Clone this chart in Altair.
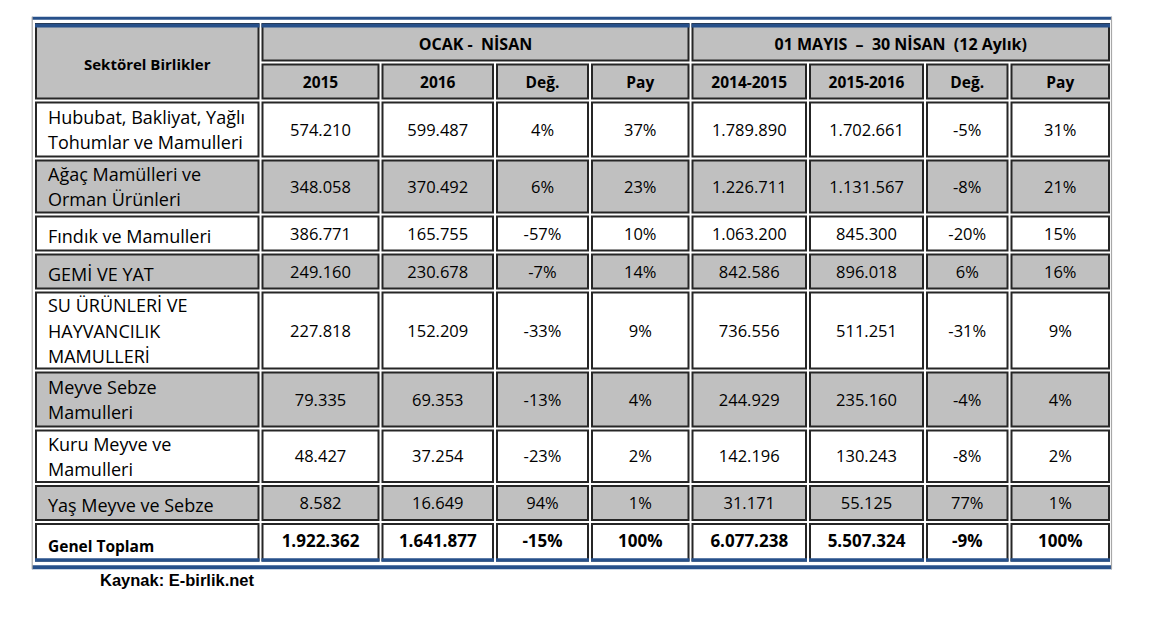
import altair as alt
import pandas as pd

# ---------------- data ----------------
corner_header = "Sektörel Birlikler"
group_headers = ["OCAK -  NİSAN", "01 MAYIS  –  30 NİSAN  (12 Aylık)"]
sub_headers = ["2015", "2016", "Değ.", "Pay", "2014-2015", "2015-2016", "Değ.", "Pay"]

sectors = [
    "Hububat, Bakliyat, Yağlı\nTohumlar ve Mamulleri",
    "Ağaç Mamülleri ve\nOrman Ürünleri",
    "Fındık ve Mamulleri",
    "GEMİ VE YAT",
    "SU ÜRÜNLERİ VE\nHAYVANCILIK\nMAMULLERİ",
    "Meyve Sebze\nMamulleri",
    "Kuru Meyve ve\nMamulleri",
    "Yaş Meyve ve Sebze",
]
total_label = "Genel Toplam"

jan_apr_2015 = [574210, 348058, 386771, 249160, 227818, 79335, 48427, 8582]
jan_apr_2016 = [599487, 370492, 165755, 230678, 152209, 69353, 37254, 16649]
jan_apr_chg = [4, 6, -57, -7, -33, -13, -23, 94]
jan_apr_share = [37, 23, 10, 14, 9, 4, 2, 1]
y12_2014_2015 = [1789890, 1226711, 1063200, 842586, 736556, 244929, 142196, 31171]
y12_2015_2016 = [1702661, 1131567, 845300, 896018, 511251, 235160, 130243, 55125]
y12_chg = [-5, -8, -20, 6, -31, -4, -8, 77]
y12_share = [31, 21, 15, 16, 9, 4, 2, 1]

total_values = [1922362, 1641877, -15, 100, 6077238, 5507324, -9, 100]
value_kinds = ["int", "int", "pct", "pct", "int", "int", "pct", "pct"]

source_note = "Kaynak: E-birlik.net"


def fmt(v, kind):
    if kind == "int":
        return f"{v:,}".replace(",", ".")
    return f"{v}%"


def keep_spaces(s):
    return s.replace("  ", " \u00a0")


# ---------------- layout ----------------
W, H = 1135, 607
OX, OY = 8, 8
col_edges = [34, 260.5, 380.5, 495, 590, 690.5, 808, 925, 1009.5, 1111]
row_edges = [22, 62.5, 100.5, 158.5, 214.5, 252.5, 290.5, 370.5, 428.5, 484, 522, 562.5]
LINE_H = 25.5
GRAY = "#C0C0C0"
WHITE = "#FFFFFF"
BORDER = "#262626"
BLUE = "#27508A"
FRAME = "#A8A8A8"
FONT = "Open Sans"

xs = alt.Scale(domain=[OX, OX + W], range=[0, W], nice=False, zero=False)
ys = alt.Scale(domain=[OY, OY + H], range=[0, H], nice=False, zero=False)


def cx(c0, c1):
    return (col_edges[c0] + col_edges[c1 + 1]) / 2


def cy(r0, r1):
    return (row_edges[r0] + row_edges[r1 + 1]) / 2


cells = []


def add_cell(c0, c1, r0, r1, fill):
    cells.append(dict(x=col_edges[c0] + 2, x2=col_edges[c1 + 1] - 2,
                      y=row_edges[r0] + 2, y2=row_edges[r1 + 1] - 2, fill=fill))


# header cells
add_cell(0, 0, 0, 1, GRAY)
add_cell(1, 4, 0, 0, GRAY)
add_cell(5, 8, 0, 0, GRAY)
for c in range(1, 9):
    add_cell(c, c, 1, 1, GRAY)
# body cells
n_body = len(sectors) + 1
for k in range(n_body):
    fill = WHITE if k % 2 == 0 else GRAY
    for c in range(9):
        add_cell(c, c, 2 + k, 2 + k, fill)
cells_df = pd.DataFrame(cells)

# blue bands (frame) and grey outer verticals
bands = []
left, right = 32, 1112
bands.append(dict(x=left, x2=right, y=16.8, y2=19.8, fill=BLUE))
bands.append(dict(x=left, x2=right, y=565.2, y2=569.2, fill=BLUE))
for (c0, c1) in [(0, 0), (1, 4), (5, 8)]:
    bands.append(dict(x=col_edges[c0] + 1, x2=col_edges[c1 + 1] - 1, y=23.4, y2=27.6, fill=BLUE))
for c in range(9):
    bands.append(dict(x=col_edges[c] + 1, x2=col_edges[c + 1] - 1, y=558.2, y2=561.8, fill=BLUE))
bands.append(dict(x=31.6, x2=32.8, y=16.8, y2=569.2, fill=FRAME))
bands.append(dict(x=1110.9, x2=1112.1, y=16.8, y2=569.2, fill=FRAME))
bands_df = pd.DataFrame(bands)

# texts
corner_df = pd.DataFrame([dict(x=cx(0, 0), y=cy(0, 1) + 3.5, t=corner_header)])
group_df = pd.DataFrame([dict(x=cx(1, 4), y=cy(0, 0) + 3, t=keep_spaces(group_headers[0])),
                         dict(x=cx(5, 8), y=cy(0, 0) + 3, t=keep_spaces(group_headers[1]))])
sub_df = pd.DataFrame([dict(x=cx(i + 1, i + 1), y=cy(1, 1) + 1, t=h) for i, h in enumerate(sub_headers)])

series = [jan_apr_2015, jan_apr_2016, jan_apr_chg, jan_apr_share,
          y12_2014_2015, y12_2015_2016, y12_chg, y12_share]
label_txt, num_txt, tot_txt = [], [], []
for k, name in enumerate(sectors):
    r = 2 + k
    n_lines = name.count("\n") + 1
    off = 4 if n_lines == 1 else 2
    label_txt.append(dict(x=48, y=cy(r, r) + off - (n_lines - 1) * LINE_H / 2, t=name))
    for i, s in enumerate(series):
        num_txt.append(dict(x=cx(i + 1, i + 1), y=cy(r, r) + 1, t=fmt(s[k], value_kinds[i])))
rt = 2 + len(sectors)
tot_label_df = pd.DataFrame([dict(x=48, y=cy(rt, rt) + 5, t=total_label)])
for i, v in enumerate(total_values):
    tot_txt.append(dict(x=cx(i + 1, i + 1), y=cy(rt, rt), t=fmt(v, value_kinds[i])))
label_df = pd.DataFrame(label_txt)
num_df = pd.DataFrame(num_txt)
tot_df = pd.DataFrame(tot_txt)
note_df = pd.DataFrame([dict(x=100, y=580.5, t=source_note)])


def rect_layer(df, **kw):
    return alt.Chart(df).mark_rect(**kw).encode(
        x=alt.X("x:Q", scale=xs, axis=None), x2="x2:Q",
        y=alt.Y("y:Q", scale=ys, axis=None), y2="y2:Q",
        fill=alt.Fill("fill:N", scale=None, legend=None))


def text_layer(df, size, bold=False, align="center", font=FONT):
    return alt.Chart(df).mark_text(
        font=font, fontSize=size, fontWeight="bold" if bold else "normal",
        align=align, baseline="middle", color="#000000",
        lineBreak="\n", lineHeight=LINE_H).encode(
        x=alt.X("x:Q", scale=xs, axis=None),
        y=alt.Y("y:Q", scale=ys, axis=None),
        text="t:N")


chart = alt.layer(
    rect_layer(cells_df, stroke=BORDER, strokeWidth=2),
    rect_layer(bands_df),
    text_layer(corner_df, 15, bold=True),
    text_layer(group_df, 16, bold=True),
    text_layer(sub_df, 15.5, bold=True),
    text_layer(label_df, 18, align="left"),
    text_layer(num_df, 16.5),
    text_layer(tot_label_df, 15.5, bold=True, align="left"),
    text_layer(tot_df, 17, bold=True),
    text_layer(note_df, 16.5, bold=True, align="left", font="Liberation Sans"),
).properties(
    width=W, height=H,
    autosize=alt.AutoSizeParams(type="none"),
    padding=0,
    background="white",
).configure_view(stroke=None)

chart.save("out.html", embed_options={"renderer": "svg", "actions": False})
